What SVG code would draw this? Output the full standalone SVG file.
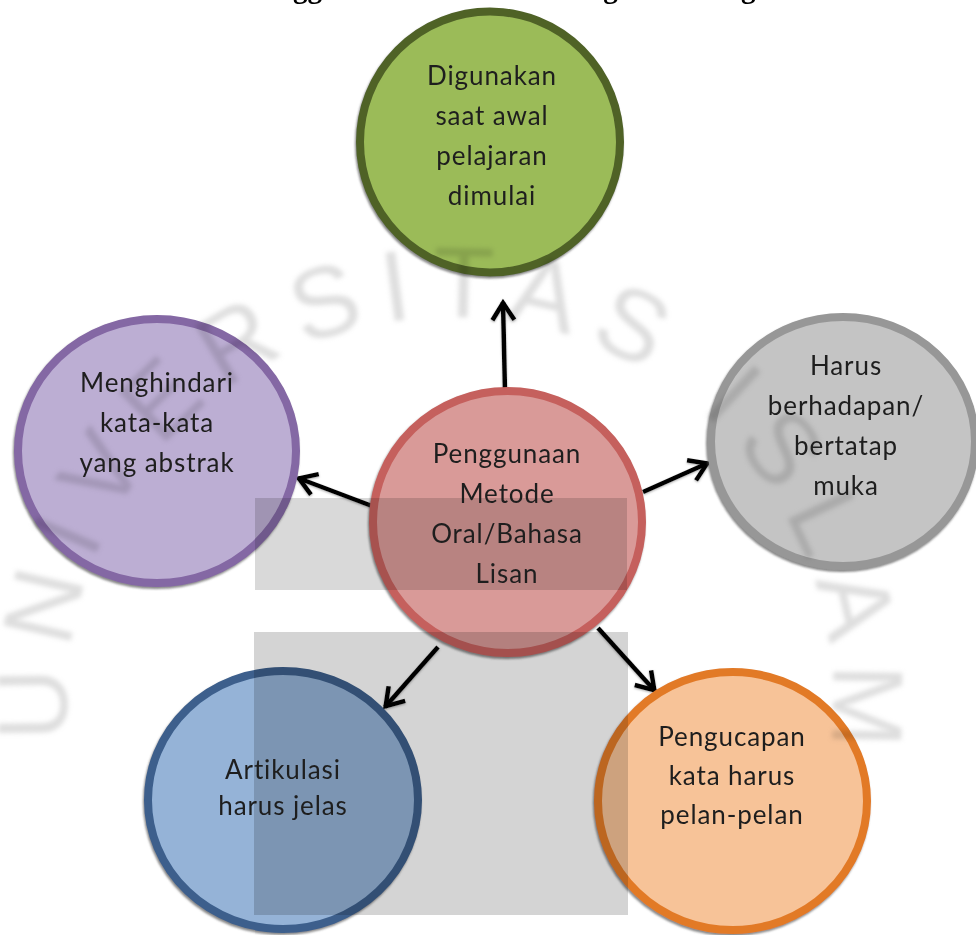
<svg xmlns="http://www.w3.org/2000/svg" width="976" height="935" viewBox="0 0 976 935">
<style>
.lbl{font-family:Lato,"Open Sans","Liberation Sans",sans-serif;font-size:26px;letter-spacing:0.9px;fill:#1e1e1e;text-anchor:middle}
.ring{stroke-width:8}
.con{stroke:#000;stroke-width:4.5;fill:none;marker-end:url(#ah)}
.wm{font-family:"Liberation Sans",Arial,sans-serif;font-size:100px;fill:#bdbdbd}
</style>
<defs>
<marker id="ah" viewBox="-24 -14 28 28" markerUnits="userSpaceOnUse" markerWidth="28" markerHeight="28" refX="0" refY="0" orient="auto">
<path d="M-18,-11 L-1,0 L-18,11" fill="none" stroke="#000" stroke-width="4.5" stroke-linejoin="miter"/>
</marker>
<filter id="sh" x="-10%" y="-10%" width="120%" height="120%">
<feDropShadow dx="-1" dy="2" stdDeviation="1.2" flood-color="#555" flood-opacity="0.7"/>
</filter>
<filter id="ash" x="-20%" y="-20%" width="140%" height="140%">
<feDropShadow dx="0" dy="1" stdDeviation="1" flood-color="#777" flood-opacity="0.6"/>
</filter>
<filter id="wb"><feGaussianBlur stdDeviation="2.5"/></filter>
<path id="arc" d="M69,740 A383,383 0 1 1 827,767"/>
</defs>
<rect width="976" height="935" fill="#fff"/>
<text x="474" y="-2" font-family="Liberation Serif,serif" font-weight="bold" font-size="29" text-anchor="middle" fill="#000">Cara Penggunaan Metode Oral bagi Tunarungu</text>

<g id="connectors" filter="url(#ash)">
<line class="con" x1="505" y1="392" x2="503" y2="302"/>
<line class="con" x1="372" y1="506" x2="298" y2="478"/>
<line class="con" x1="643" y1="492" x2="708" y2="463"/>
<line class="con" x1="438" y1="647" x2="385" y2="707"/>
<line class="con" x1="598" y1="628" x2="655" y2="691"/>
</g>

<g id="n-top" filter="url(#sh)"><ellipse class="ring" cx="490" cy="142" rx="130" ry="130.5" fill="#9bbb59" stroke="#4f6228"/></g>
<g id="n-center" filter="url(#sh)"><ellipse class="ring" cx="507.5" cy="522" rx="134.5" ry="131" fill="#d99a98" stroke="#c5605d"/></g>
<g id="n-left" filter="url(#sh)"><ellipse class="ring" cx="157" cy="451" rx="139" ry="132" fill="#bcaed3" stroke="#8467a4"/></g>
<g id="n-right" filter="url(#sh)"><ellipse class="ring" cx="843" cy="441.5" rx="132" ry="124.5" fill="#c4c4c4" stroke="#979797"/></g>
<g id="n-bl" filter="url(#sh)"><ellipse class="ring" cx="283" cy="800" rx="135" ry="129" fill="#95b3d7" stroke="#3c5f8c"/></g>
<g id="n-br" filter="url(#sh)"><ellipse class="ring" cx="732.5" cy="801" rx="134.5" ry="129" fill="#f7c398" stroke="#e27a28"/></g>

<g id="watermark" style="mix-blend-mode:multiply">
<rect x="255" y="498" width="372" height="92" fill="#d9d9d9"/>
<rect x="254" y="632" width="374" height="283" fill="#d4d4d4"/>
<g filter="url(#wb)" opacity="0.5">
<text class="wm"><textPath href="#arc" textLength="1290" lengthAdjust="spacing">UNIVERSITAS ISLAM</textPath></text>
</g>
</g>

<g id="labels">
<text class="lbl" x="492" y="85">Digunakan</text>
<text class="lbl" x="492" y="125">saat awal</text>
<text class="lbl" x="492" y="165">pelajaran</text>
<text class="lbl" x="492" y="205">dimulai</text>
<text class="lbl" x="507" y="463">Penggunaan</text>
<text class="lbl" x="507" y="503">Metode</text>
<text class="lbl" x="507" y="543">Oral/Bahasa</text>
<text class="lbl" x="507" y="583">Lisan</text>
<text class="lbl" x="157" y="392">Menghindari</text>
<text class="lbl" x="157" y="432">kata-kata</text>
<text class="lbl" x="157" y="472">yang abstrak</text>
<text class="lbl" x="846" y="375">Harus</text>
<text class="lbl" x="846" y="415">berhadapan/</text>
<text class="lbl" x="846" y="455">bertatap</text>
<text class="lbl" x="846" y="495">muka</text>
<text class="lbl" x="283" y="779">Artikulasi</text>
<text class="lbl" x="283" y="815">harus jelas</text>
<text class="lbl" x="732" y="746">Pengucapan</text>
<text class="lbl" x="732" y="785">kata harus</text>
<text class="lbl" x="732" y="824">pelan-pelan</text>
</g>
</svg>
